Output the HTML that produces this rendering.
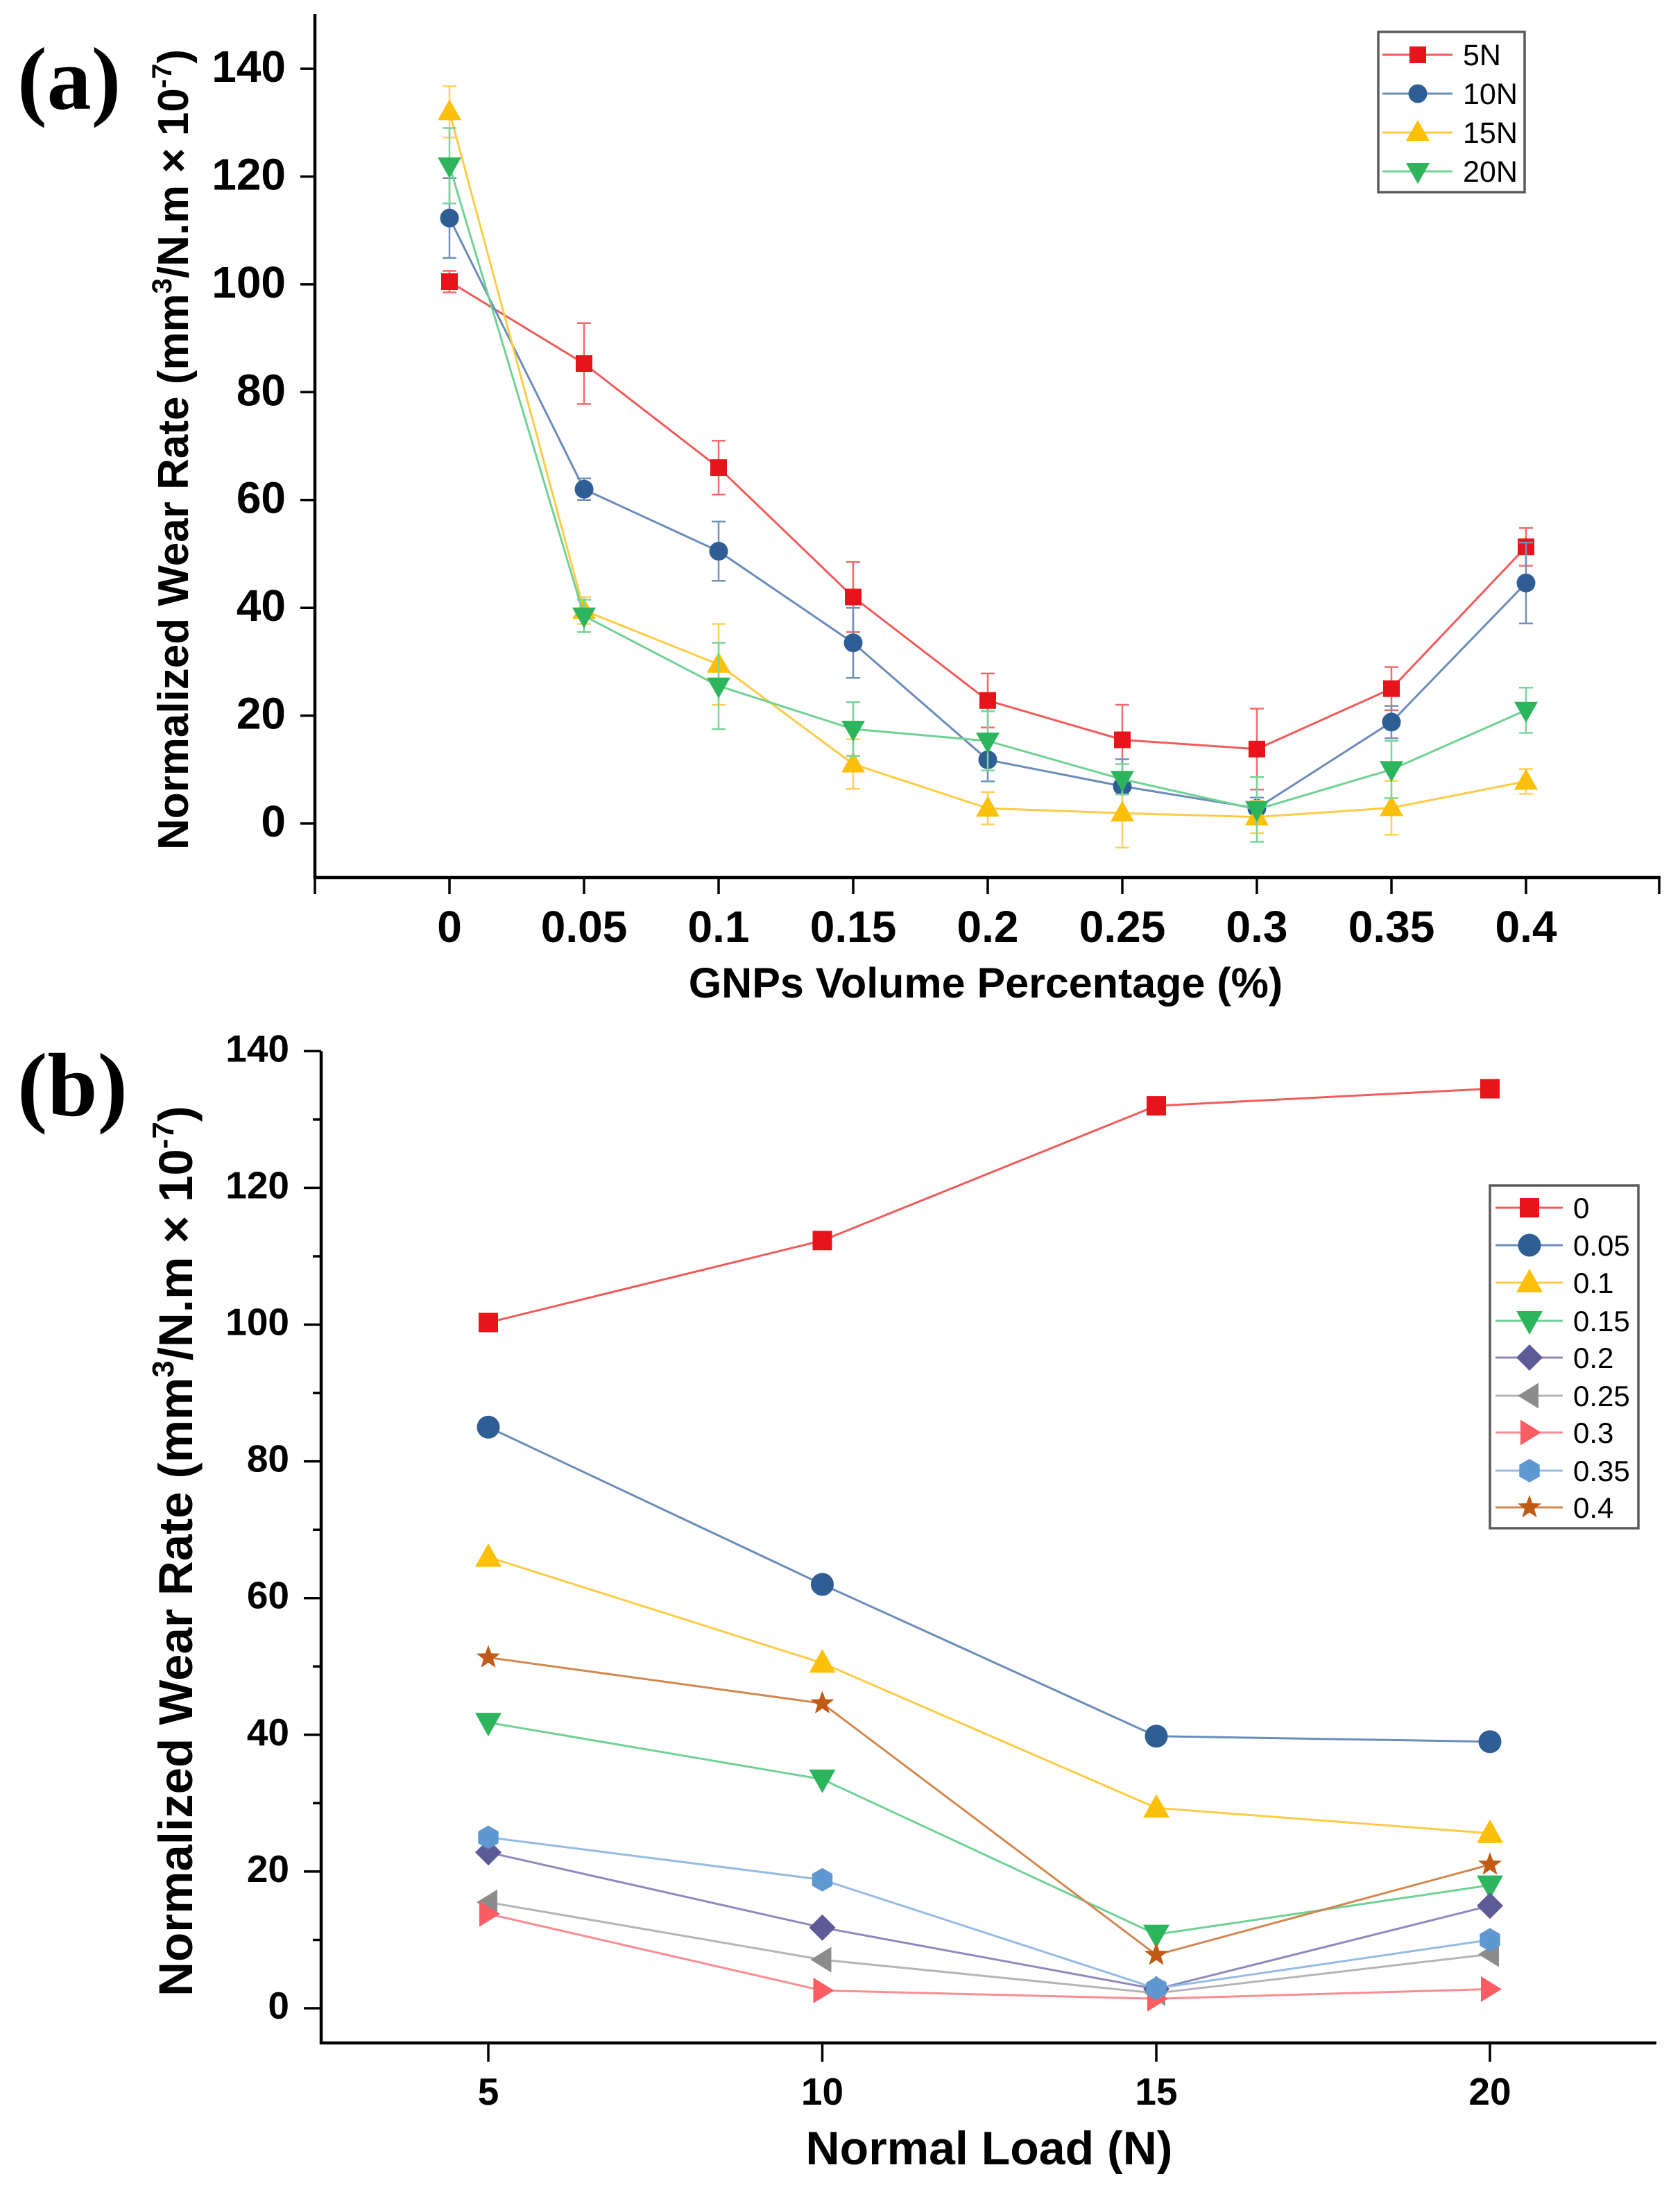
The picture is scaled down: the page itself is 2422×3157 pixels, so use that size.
<!DOCTYPE html>
<html><head><meta charset="utf-8"><style>html,body{margin:0;padding:0;background:#fff}svg{display:block}</style></head>
<body>
<svg xmlns="http://www.w3.org/2000/svg" width="2422" height="3157" viewBox="0 0 2422 3157" font-family="'Liberation Sans', Arial, sans-serif">
<defs>
<rect id="sqA" x="-12" y="-12" width="24" height="24"/>
<circle id="ciA" r="13.5"/>
<polygon id="tuA" points="0,-18 -17,12 17,12"/>
<polygon id="tdA" points="0,18 -17,-12 17,-12"/>
<rect id="sqB" x="-14" y="-14" width="28" height="28"/>
<circle id="ciB" r="16.5"/>
<polygon id="tuB" points="0,-20 -19,14 19,14"/>
<polygon id="tdB" points="0,20 -19,-14 19,-14"/>
<polygon id="diB" points="0,-19 19,0 0,19 -19,0"/>
<polygon id="tlB" points="-17,0 13,-18.5 13,18.5"/>
<polygon id="trB" points="17,0 -13,-18.5 -13,18.5"/>
<polygon id="hxB" points="0,-17 14.7,-8.5 14.7,8.5 0,17 -14.7,8.5 -14.7,-8.5"/>
<polygon id="stB" points="0,-18 4.4,-6 17.1,-5.6 7,2.3 10.6,14.6 0,7.4 -10.6,14.6 -7,2.3 -17.1,-5.6 -4.4,-6"/>
</defs>
<rect width="2422" height="3157" fill="#fff"/>

<!-- ================= PANEL (a) ================= -->
<text x="25" y="157" font-family="'Liberation Serif', 'Times New Roman', serif" font-weight="bold" font-size="128">(a)</text>

<!-- axes -->
<path d="M454,20 V1265 H2394" fill="none" stroke="#000" stroke-width="4.5"/>
<path d="M433,1187h21 M433,1031.6h21 M433,876.2h21 M433,720.7h21 M433,565.3h21 M433,409.9h21 M433,254.5h21 M433,99.1h21" stroke="#000" stroke-width="3.5"/>
<path d="M454,1265v24 M648,1265v24 M842,1265v24 M1036,1265v24 M1230,1265v24 M1424,1265v24 M1618,1265v24 M1812,1265v24 M2006,1265v24 M2200,1265v24 M2392,1265v24" stroke="#000" stroke-width="3.5"/>

<g font-size="64" font-weight="bold" text-anchor="end" fill="#000">
<text x="412" y="1206">0</text>
<text x="412" y="1050.6">20</text>
<text x="412" y="895.2">40</text>
<text x="412" y="739.7">60</text>
<text x="412" y="584.3">80</text>
<text x="412" y="428.9">100</text>
<text x="412" y="273.5">120</text>
<text x="412" y="118.1">140</text>
</g>
<g font-size="64" font-weight="bold" text-anchor="middle" fill="#000">
<text x="648" y="1358">0</text>
<text x="842" y="1358">0.05</text>
<text x="1036" y="1358">0.1</text>
<text x="1230" y="1358">0.15</text>
<text x="1424" y="1358">0.2</text>
<text x="1618" y="1358">0.25</text>
<text x="1812" y="1358">0.3</text>
<text x="2006" y="1358">0.35</text>
<text x="2200" y="1358">0.4</text>
</g>
<text x="1421" y="1438" font-size="61" font-weight="bold" text-anchor="middle">GNPs Volume Percentage (%)</text>
<text transform="translate(271,648) rotate(-90)" font-size="62" font-weight="bold" text-anchor="middle">Normalized Wear Rate (mm<tspan dy="-24" font-size="40">3</tspan><tspan dy="24">/N.m × 10</tspan><tspan dy="-24" font-size="40">-7</tspan><tspan dy="24">)</tspan></text>

<!-- 5N -->
<g stroke="#f26b6b" stroke-width="2.5" fill="none">
<path d="M648,390.5V421.5M638,390.5h20M638,421.5h20 M842,465.8V582.4M832,465.8h20M832,582.4h20 M1036,635.2V713M1026,635.2h20M1026,713h20 M1230,810.1V911.1M1220,810.1h20M1220,911.1h20 M1424,970.9V1048.7M1414,970.9h20M1414,1048.7h20 M1618,1016V1117M1608,1016h20M1608,1117h20 M1812,1021.5V1138.1M1802,1021.5h20M1802,1138.1h20 M2006,961.6V1023.8M1996,961.6h20M1996,1023.8h20 M2200,761.1V815.5M2190,761.1h20M2190,815.5h20"/>
</g>
<polyline points="648,406 842,524.1 1036,674.1 1230,860.6 1424,1009.8 1618,1066.5 1812,1079.8 2006,992.7 2200,788.3" fill="none" stroke="#f25a5a" stroke-width="3"/>
<g fill="#e8141b">
<use href="#sqA" x="648" y="406"/><use href="#sqA" x="842" y="524.1"/><use href="#sqA" x="1036" y="674.1"/><use href="#sqA" x="1230" y="860.6"/><use href="#sqA" x="1424" y="1009.8"/><use href="#sqA" x="1618" y="1066.5"/><use href="#sqA" x="1812" y="1079.8"/><use href="#sqA" x="2006" y="992.7"/><use href="#sqA" x="2200" y="788.3"/>
</g>

<!-- 10N -->
<g stroke="#7090bb" stroke-width="2.5" fill="none">
<path d="M648,256.8V371.8M638,256.8h20M638,371.8h20 M842,689.7V720.7M832,689.7h20M832,720.7h20 M1036,751.9V837.3M1026,751.9h20M1026,837.3h20 M1230,876.2V977.2M1220,876.2h20M1220,977.2h20 M1424,1064.2V1126.4M1414,1064.2h20M1414,1126.4h20 M1618,1094.5V1172.3M1608,1094.5h20M1608,1172.3h20 M1812,1149.7V1180.7M1802,1149.7h20M1802,1180.7h20 M2006,1017.6V1064.2M1996,1017.6h20M1996,1064.2h20 M2200,782.1V898.7M2190,782.1h20M2190,898.7h20"/>
</g>
<polyline points="648,314.3 842,705.2 1036,794.6 1230,926.7 1424,1095.3 1618,1133.4 1812,1165.2 2006,1040.9 2200,840.4" fill="none" stroke="#6a8cba" stroke-width="3"/>
<g fill="#2f5e95">
<use href="#ciA" x="648" y="314.3"/><use href="#ciA" x="842" y="705.2"/><use href="#ciA" x="1036" y="794.6"/><use href="#ciA" x="1230" y="926.7"/><use href="#ciA" x="1424" y="1095.3"/><use href="#ciA" x="1618" y="1133.4"/><use href="#ciA" x="1812" y="1165.2"/><use href="#ciA" x="2006" y="1040.9"/><use href="#ciA" x="2200" y="840.4"/>
</g>

<!-- 15N -->
<g stroke="#fdd058" stroke-width="2.5" fill="none">
<path d="M648,124.2V198.2M638,124.2h20M638,198.2h20 M842,860.6V899.4M832,860.6h20M832,899.4h20 M1036,899.5V1016.1M1026,899.5h20M1026,1016.1h20 M1230,1065.8V1137.2M1220,1065.8h20M1220,1137.2h20 M1424,1141.9V1188.5M1414,1141.9h20M1414,1188.5h20 M1618,1122.5V1221.9M1608,1122.5h20M1608,1221.9h20 M1812,1154.4V1201M1802,1154.4h20M1802,1201h20 M2006,1125.6V1203.4M1996,1125.6h20M1996,1203.4h20 M2200,1108.5V1144.3M2190,1108.5h20M2190,1144.3h20"/>
</g>
<polyline points="648,161.2 842,880 1036,957.8 1230,1101.5 1424,1165.2 1618,1172.2 1812,1177.7 2006,1164.5 2200,1126.4" fill="none" stroke="#fdcb45" stroke-width="3"/>
<g fill="#fcbf0a">
<use href="#tuA" x="648" y="161.2"/><use href="#tuA" x="842" y="880"/><use href="#tuA" x="1036" y="957.8"/><use href="#tuA" x="1230" y="1101.5"/><use href="#tuA" x="1424" y="1165.2"/><use href="#tuA" x="1618" y="1172.2"/><use href="#tuA" x="1812" y="1177.7"/><use href="#tuA" x="2006" y="1164.5"/><use href="#tuA" x="2200" y="1126.4"/>
</g>

<!-- 20N -->
<g stroke="#79d49b" stroke-width="2.5" fill="none">
<path d="M648,184.5V293.3M638,184.5h20M638,293.3h20 M842,864.5V911.1M832,864.5h20M832,911.1h20 M1036,926.6V1051M1026,926.6h20M1026,1051h20 M1230,1012.1V1089.9M1220,1012.1h20M1220,1089.9h20 M1424,1025.4V1110.8M1414,1025.4h20M1414,1110.8h20 M1618,1101.5V1145.1M1608,1101.5h20M1608,1145.1h20 M1812,1120.2V1213.4M1802,1120.2h20M1802,1213.4h20 M2006,1068.1V1150.5M1996,1068.1h20M1996,1150.5h20 M2200,991.2V1056.4M2190,991.2h20M2190,1056.4h20"/>
</g>
<polyline points="648,238.9 842,887.8 1036,988.8 1230,1051 1424,1068.1 1618,1123.3 1812,1166.8 2006,1109.3 2200,1023.8" fill="none" stroke="#6fd294" stroke-width="3"/>
<g fill="#2db55d">
<use href="#tdA" x="648" y="238.9"/><use href="#tdA" x="842" y="887.8"/><use href="#tdA" x="1036" y="988.8"/><use href="#tdA" x="1230" y="1051"/><use href="#tdA" x="1424" y="1068.1"/><use href="#tdA" x="1618" y="1123.3"/><use href="#tdA" x="1812" y="1166.8"/><use href="#tdA" x="2006" y="1109.3"/><use href="#tdA" x="2200" y="1023.8"/>
</g>

<!-- legend (a) -->
<rect x="1987" y="46" width="211" height="231" fill="#fff" stroke="#5a5a5a" stroke-width="3.5"/>
<path d="M1993,79H2094" stroke="#f25a5a" stroke-width="3"/><use href="#sqA" x="2044" y="79" fill="#e8141b"/>
<path d="M1993,135H2094" stroke="#6a8cba" stroke-width="3"/><use href="#ciA" x="2044" y="135" fill="#2f5e95"/>
<path d="M1993,191H2094" stroke="#fdcb45" stroke-width="3"/><use href="#tuA" x="2044" y="191" fill="#fcbf0a"/>
<path d="M1993,247H2094" stroke="#6fd294" stroke-width="3"/><use href="#tdA" x="2044" y="247" fill="#2db55d"/>
<g font-size="43" fill="#000">
<text x="2109" y="94">5N</text>
<text x="2109" y="150">10N</text>
<text x="2109" y="206">15N</text>
<text x="2109" y="262">20N</text>
</g>

<!-- ================= PANEL (b) ================= -->
<text x="25" y="1608" font-family="'Liberation Serif', 'Times New Roman', serif" font-weight="bold" font-size="130">(b)</text>

<path d="M463,1515.3 V2945 H2388" fill="none" stroke="#000" stroke-width="4.5"/>
<path d="M438,2895h25 M438,2697.9h25 M438,2500.8h25 M438,2303.7h25 M438,2106.6h25 M438,1909.5h25 M438,1712.4h25 M438,1515.3h25" stroke="#000" stroke-width="3.5"/>
<path d="M451,2796.5h12 M451,2599.4h12 M451,2402.3h12 M451,2205.2h12 M451,2008.1h12 M451,1811h12 M451,1613.9h12" stroke="#000" stroke-width="3.5"/>
<path d="M704,2945v27 M1185.5,2945v27 M1667,2945v27 M2148,2945v27" stroke="#000" stroke-width="3.5"/>

<g font-size="55" font-weight="bold" text-anchor="end" fill="#000">
<text x="417" y="2910">0</text>
<text x="417" y="2712.9">20</text>
<text x="417" y="2515.8">40</text>
<text x="417" y="2318.7">60</text>
<text x="417" y="2121.6">80</text>
<text x="417" y="1924.5">100</text>
<text x="417" y="1727.4">120</text>
<text x="417" y="1530.3">140</text>
</g>
<g font-size="55" font-weight="bold" text-anchor="middle" fill="#000">
<text x="704" y="3034">5</text>
<text x="1185.5" y="3034">10</text>
<text x="1667" y="3034">15</text>
<text x="2148" y="3034">20</text>
</g>
<text x="1426" y="3120" font-size="68" font-weight="bold" text-anchor="middle">Normal Load (N)</text>
<text transform="translate(277,2236) rotate(-90)" font-size="69" font-weight="bold" text-anchor="middle">Normalized Wear Rate (mm<tspan dy="-27" font-size="44">3</tspan><tspan dy="27">/N.m × 10</tspan><tspan dy="-27" font-size="44">-7</tspan><tspan dy="27">)</tspan></text>

<!-- series b -->
<g fill="none" stroke-width="3">
<polyline points="704,1906.5 1185.5,1788.3 1667,1594.1 2148,1569.5" stroke="#f25a5a"/>
<polyline points="704,2057.3 1185.5,2284 1667,2502.8 2148,2510.7" stroke="#6a8cba"/>
<polyline points="704,2244.6 1185.5,2397.3 1667,2606.2 2148,2642.7" stroke="#fdcb45"/>
<polyline points="704,2483.1 1185.5,2564.9 1667,2788.6 2148,2717.6" stroke="#6fd294"/>
<polyline points="704,2670.3 1185.5,2778.7 1667,2867.4 2148,2747.2" stroke="#8d89bc"/>
<polyline points="704,2742.2 1185.5,2825 1667,2873.3 2148,2817.1" stroke="#b4b4b4"/>
<polyline points="704,2759 1185.5,2869.4 1667,2881.2 2148,2867.4" stroke="#fb8c91"/>
<polyline points="704,2648.6 1185.5,2709.7 1667,2866.4 2148,2796.4" stroke="#94bbe4"/>
<polyline points="704,2389.4 1185.5,2455.5 1667,2818.1 2148,2688" stroke="#d3874f"/>
</g>
<g fill="#e8141b"><use href="#sqB" x="704" y="1906.5"/><use href="#sqB" x="1185.5" y="1788.3"/><use href="#sqB" x="1667" y="1594.1"/><use href="#sqB" x="2148" y="1569.5"/></g>
<g fill="#2f5e95"><use href="#ciB" x="704" y="2057.3"/><use href="#ciB" x="1185.5" y="2284"/><use href="#ciB" x="1667" y="2502.8"/><use href="#ciB" x="2148" y="2510.7"/></g>
<g fill="#fcbf0a"><use href="#tuB" x="704" y="2244.6"/><use href="#tuB" x="1185.5" y="2397.3"/><use href="#tuB" x="1667" y="2606.2"/><use href="#tuB" x="2148" y="2642.7"/></g>
<g fill="#2db55d"><use href="#tdB" x="704" y="2483.1"/><use href="#tdB" x="1185.5" y="2564.9"/><use href="#tdB" x="1667" y="2788.6"/><use href="#tdB" x="2148" y="2717.6"/></g>
<g fill="#5d5b97"><use href="#diB" x="704" y="2670.3"/><use href="#diB" x="1185.5" y="2778.7"/><use href="#diB" x="1667" y="2867.4"/><use href="#diB" x="2148" y="2747.2"/></g>
<g fill="#8c8c8c"><use href="#tlB" x="704" y="2742.2"/><use href="#tlB" x="1185.5" y="2825"/><use href="#tlB" x="1667" y="2873.3"/><use href="#tlB" x="2148" y="2817.1"/></g>
<g fill="#fb5d63"><use href="#trB" x="704" y="2759"/><use href="#trB" x="1185.5" y="2869.4"/><use href="#trB" x="1667" y="2881.2"/><use href="#trB" x="2148" y="2867.4"/></g>
<g fill="#5f97d1"><use href="#hxB" x="704" y="2648.6"/><use href="#hxB" x="1185.5" y="2709.7"/><use href="#hxB" x="1667" y="2866.4"/><use href="#hxB" x="2148" y="2796.4"/></g>
<g fill="#c05a14"><use href="#stB" x="704" y="2389.4"/><use href="#stB" x="1185.5" y="2455.5"/><use href="#stB" x="1667" y="2818.1"/><use href="#stB" x="2148" y="2688"/></g>

<!-- legend (b) -->
<rect x="2148" y="1709" width="214" height="494" fill="#fff" stroke="#5a5a5a" stroke-width="3.5"/>
<g stroke-width="3">
<path d="M2156,1741H2253" stroke="#f25a5a"/>
<path d="M2156,1795H2253" stroke="#6a8cba"/>
<path d="M2156,1849H2253" stroke="#fdcb45"/>
<path d="M2156,1904H2253" stroke="#6fd294"/>
<path d="M2156,1957H2253" stroke="#8d89bc"/>
<path d="M2156,2012H2253" stroke="#b4b4b4"/>
<path d="M2156,2065H2253" stroke="#fb8c91"/>
<path d="M2156,2120H2253" stroke="#94bbe4"/>
<path d="M2156,2173H2253" stroke="#d3874f"/>
</g>
<use href="#sqB" x="2205" y="1741" fill="#e8141b"/>
<use href="#ciB" x="2205" y="1795" fill="#2f5e95"/>
<use href="#tuB" x="2205" y="1849" fill="#fcbf0a"/>
<use href="#tdB" x="2205" y="1904" fill="#2db55d"/>
<use href="#diB" x="2205" y="1957" fill="#5d5b97"/>
<use href="#tlB" x="2205" y="2012" fill="#8c8c8c"/>
<use href="#trB" x="2205" y="2065" fill="#fb5d63"/>
<use href="#hxB" x="2205" y="2120" fill="#5f97d1"/>
<use href="#stB" x="2205" y="2173" fill="#c05a14"/>
<g font-size="42" fill="#000">
<text x="2268" y="1756">0</text>
<text x="2268" y="1810">0.05</text>
<text x="2268" y="1864">0.1</text>
<text x="2268" y="1919">0.15</text>
<text x="2268" y="1972">0.2</text>
<text x="2268" y="2027">0.25</text>
<text x="2268" y="2080">0.3</text>
<text x="2268" y="2135">0.35</text>
<text x="2268" y="2188">0.4</text>
</g>
</svg>
</body></html>
